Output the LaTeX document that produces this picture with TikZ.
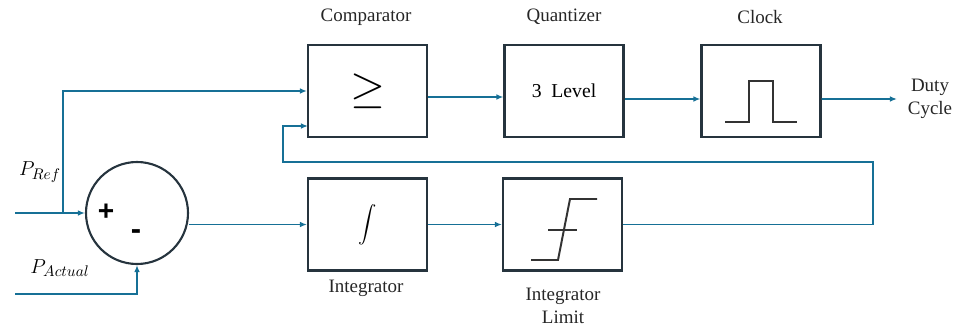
\documentclass[tikz,border=0pt]{standalone}
\usepackage{fontspec}
\setmainfont{Liberation Serif}
\setsansfont{Liberation Sans}
\usepackage{tikz}
\usetikzlibrary{arrows.meta,positioning,calc}
\definecolor{sigblue}{RGB}{22,112,150}
\definecolor{boxedge}{RGB}{38,52,62}
\tikzset{
  ctlblock/.style={draw=boxedge, line width=1.5pt, fill=white, minimum width=29.75mm, minimum height=23mm, inner sep=0pt, align=center},
  ctlsum/.style={draw=boxedge, line width=1.5pt, circle, minimum size=25.5mm, inner sep=0pt},
  ctllabel/.style={font=\fontsize{13.5}{16}\selectfont, align=center, text=black!85},
  ctlarrow/.style={-{Latex[length=5pt,width=4pt]}, draw=sigblue, line width=1.3pt},
  ctlsym/.style={draw=black!80, line width=1.4pt}
}
\begin{document}
\begin{tikzpicture}[x=0.25mm, y=-0.25mm]
\useasboundingbox (0,0) rectangle (960,334);
% blocks
\node[ctlblock] (comp) at (367.5,91) {\scalebox{3.2}{$\geq$}};
\node[ctlblock] (quant) at (564,91) {\fontsize{14}{16}\selectfont 3~~Level};
\node[ctlblock] (clock) at (761,91) {};
\node[ctlblock] (integ) at (367.5,224.5) {\scalebox{1.3}{$\displaystyle\int$}};
\node[ctlblock] (limit) at (562.5,224.5) {};
\node[ctlsum] (sum) at (137,213) {};
\node[font=\sffamily\bfseries\fontsize{20}{20}\selectfont] (plus) at (106,212) {+};
\node[font=\sffamily\bfseries\fontsize{22}{22}\selectfont] (minus) at (136,235) {-};
% labels
\node[ctllabel] (complbl) at (366,17) {Comparator};
\node[ctllabel] (quantlbl) at (564,17) {Quantizer};
\node[ctllabel] (clocklbl) at (760,17) {Clock};
\node[ctllabel] (integlbl) at (366,288) {Integrator};
\node[ctllabel] (limitlbl) at (563,306) {Integrator\\Limit};
\node[ctllabel] (duty) at (930,99) {Duty\\Cycle};
\node[font=\fontsize{15}{18}\selectfont] (preflbl) at (40,172) {$P_{Ref}$};
\node[font=\fontsize{15}{18}\selectfont] (pactlbl) at (60,268) {$P_{Actual}$};
% symbols inside blocks
\draw[ctlsym] (clock) ++(-36,31) -- ++(24,0) -- ++(0,-41) -- ++(24,0) -- ++(0,41) -- ++(24,0);
\draw[ctlsym] (limit) ++(-31.5,35.5) -- ++(27,0) -- ++(12,-61) -- ++(27,0);
\draw[ctlsym] (limit) ++(-14.5,5.5) -- ++(29,0);
% signal paths
\coordinate (refin) at (15,213);
\coordinate (refsplit) at (63,213);
\coordinate (actin) at (15,294);
\coordinate (cmpin) at (308,126);
\coordinate (fbr) at (873,162);
\coordinate (fbl) at (283,162);
\coordinate (dutyout) at (897,99);
\draw[ctlarrow] (refin) -- (sum);
\draw[ctlarrow] (refsplit) |- (comp.west);
\draw[ctlarrow] (actin) -| (sum.south);
\draw[ctlarrow] (integ.west -| sum.east) -- (integ.west);
\draw[ctlarrow] (integ) -- (limit);
\draw[ctlarrow] (limit.east) -| (fbr) -- (fbl) |- (cmpin);
\draw[ctlarrow] ([yshift=-1.5mm]comp.east) -- ([yshift=-1.5mm]quant.west);
\draw[ctlarrow] ([yshift=-2mm]quant.east) -- ([yshift=-2mm]clock.west);
\draw[ctlarrow] ([yshift=-2mm]clock.east) -- (dutyout);
\end{tikzpicture}
\end{document}
